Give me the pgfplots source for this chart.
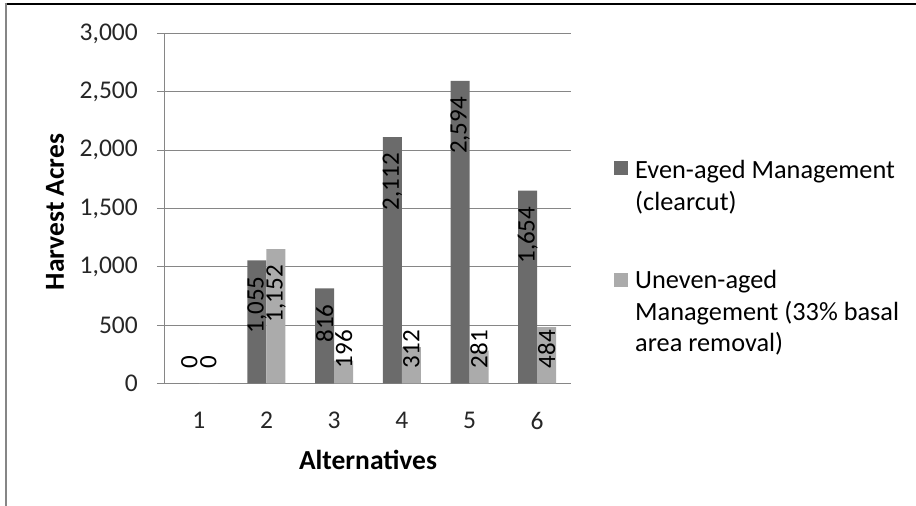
\documentclass[border=0pt]{standalone}
\usepackage{fontspec}
\setmainfont{Carlito}
\usepackage{pgfplots}
\pgfplotsset{compat=1.18}

\definecolor{evenc}{HTML}{6B6B6B}
\definecolor{unevenc}{HTML}{ABABAB}
\definecolor{gridc}{HTML}{868686}

\pgfplotsset{/pgf/number format/assume math mode=true}

\begin{document}
\begin{tikzpicture}
\path[use as bounding box] (-165pt,-122.5pt) rectangle (751pt,383.5pt);
\draw[black, line width=2pt] (-160pt,379pt) -- (751pt,379pt);
\draw[gridc, line width=2pt] (-158.5pt,380pt) -- (-158.5pt,-122.5pt);
\begin{axis}[
  at={(0pt,0pt)}, anchor=south west,
  scale only axis, width=406pt, height=350pt,
  xmin=0.5, xmax=6.5, ymin=0, ymax=3000,
  xtick={1,2,3,4,5,6}, ytick={0,500,...,3000},
  axis lines*=left,
  ymajorgrids, grid style={gridc, line width=1pt},
  axis line style={gridc, line width=1pt},
  tick align=outside, major tick length=8pt,
  ytick style={gridc, line width=1pt},
  xtick style={draw=none},
  tick label style={font=\fontsize{25.5}{30}\selectfont, text=black!85},
  yticklabel style={anchor=east, inner sep=0pt, xshift=-19pt},
  xticklabel style={anchor=center, inner sep=0pt, yshift=-29pt},
  label style={font=\bfseries\fontsize{27.5}{33}\selectfont},
  xlabel={Alternatives},
  ylabel={Harvest Acres},
  xlabel style={at={(axis description cs:0.5,-0.218)}, anchor=center},
  ylabel style={at={(axis description cs:-0.271,0.49)}, anchor=center, rotate=0},
  legend style={at={(axis description cs:1.106,0.638)}, anchor=north west, draw=none, fill=none,
    inner sep=0pt, row sep=59pt, column sep=8pt,
    font=\fontsize{26.3}{31.5}\selectfont, nodes={inner sep=0pt, align=left}},
  legend cell align=left,
  nodes near coords style={font=\fontsize{25}{30}\selectfont, text=black, inner sep=0pt},
]
\addplot[ybar, bar width=19pt, bar shift=-9.5pt, fill=evenc, draw=none, forget plot,
  nodes near coords, point meta=y,
  visualization depends on={value \thisrow{anc}\as\lanc},
  visualization depends on={value \thisrow{off}\as\loff},
  every node near coord/.append style={anchor=\lanc, xshift=-9.5pt, yshift=\loff pt, rotate=90}]
  table[x=x, y=y] {
x y anc off
1 0 west 15
2 1055 east -16
3 816 east -16
4 2112 east -16
5 2594 east -16
6 1654 east -16
};
\addplot[ybar, bar width=19pt, bar shift=9.5pt, fill=unevenc, draw=none, forget plot,
  nodes near coords, point meta=y,
  visualization depends on={value \thisrow{anc}\as\lanc},
  visualization depends on={value \thisrow{off}\as\loff},
  every node near coord/.append style={anchor=\lanc, xshift=9.5pt, yshift=\loff pt, rotate=90}]
  table[x=x, y=y] {
x y anc off
1 0 west 15
2 1152 east -16
3 196 west -7.9
4 312 west -21.4
5 281 west -17.8
6 484 west -41.5
};
\addlegendimage{legend image code/.code={\path[draw=none, fill=none] (0pt,0pt) -- (13pt,0pt); \fill[evenc, overlay] (0pt,12pt) rectangle (13pt,25pt);}}
\addlegendentry{Even-aged Management\\(clearcut)}
\addlegendimage{legend image code/.code={\path[draw=none, fill=none] (0pt,0pt) -- (13pt,0pt); \fill[unevenc, overlay] (0pt,26pt) rectangle (13pt,39pt);}}
\addlegendentry{Uneven-aged\\Management (33\% basal\\area removal)}
\end{axis}
\end{tikzpicture}
\end{document}
